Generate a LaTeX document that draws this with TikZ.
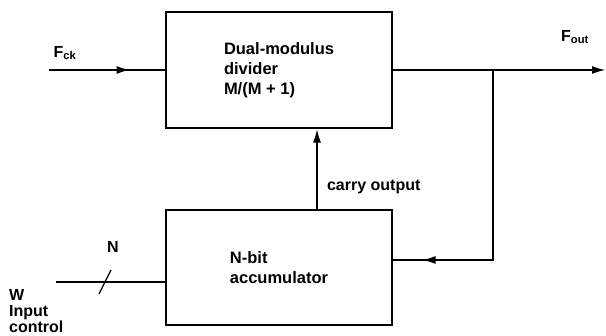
\documentclass[tikz,border=0pt]{standalone}
\usepackage{fontspec}
\setmainfont{Liberation Sans}
\usepackage{tikz}
\usetikzlibrary{arrows.meta,positioning,calc,decorations.markings}

\tikzset{
    block/.style={draw, line width=1.1pt, minimum width=226pt, minimum height=116pt,
        inner sep=0pt, align=left, font=\bfseries\fontsize{16.5}{20}\selectfont},
    wire/.style={line width=2.2pt},
    lbl/.style={font=\bfseries\fontsize{16}{18}\selectfont, inner sep=1pt},
    midarrow/.style={postaction={decorate},
        decoration={markings, mark=at position #1 with {\arrow{Latex[length=14pt,width=8pt]}}}}
}

\begin{document}
\begin{tikzpicture}[x=1pt,y=1pt,>={Latex[length=14pt,width=8pt]}]
    \useasboundingbox (0,0) rectangle (606,336);

    % Blocks
    \node[block] (divider) at (279,266) {Dual-modulus\\divider\\M/(M + 1)};
    \node[block, minimum height=115pt] (accum) at (279,68.5) {N-bit\\accumulator};

    % Clock in, output out
    \coordinate (fck) at (49,266);
    \coordinate (fout) at (606,266);
    \coordinate (branch) at (493,266);
    \draw[wire, midarrow=0.7] (fck) -- (divider.west);
    \node[lbl] (fcklbl) at (65,283) {F\textsubscript{ck}};
    \draw[wire, ->] (divider.east) -- (fout);
    \node[lbl] (foutlbl) at (575,299) {F\textsubscript{out}};

    % Feedback to accumulator
    \coordinate (fb) at ($(accum.east)+(0,7.5)$);
    \draw[wire, midarrow=0.9] (branch) |- (fb);

    % Carry output
    \draw[wire, ->] (accum.north -| 317,0) -- (divider.south -| 317,0)
        node[lbl, pos=0.28, right=8pt] (carry) {carry output};

    % N-bit word input
    \coordinate (win) at (56,54);
    \draw[wire] (win) -- (accum.west |- win);
    \draw[line width=1.2pt] (99,42) -- (111,66);
    \node[lbl] (nlbl) at (113,89) {N};
    \node[lbl, align=left, anchor=north west, font=\bfseries\fontsize{16}{16}\selectfont]
        (wlbl) at (8,48) {W\\Input\\control};
\end{tikzpicture}
\end{document}
